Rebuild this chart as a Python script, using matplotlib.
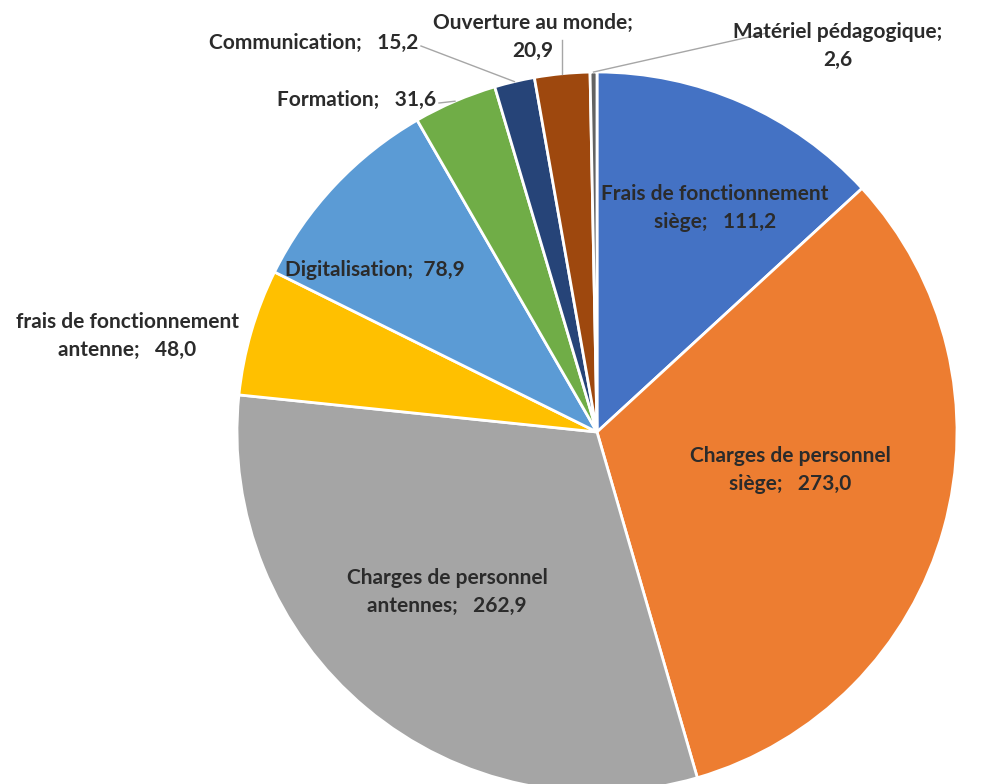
import numpy as np
import matplotlib.pyplot as plt

# Budget split (values in k€)
labels = [
    "Frais de fonctionnement siège",
    "Charges de personnel siège",
    "Charges de personnel antennes",
    "frais de fonctionnement antenne",
    "Digitalisation",
    "Formation",
    "Communication",
    "Ouverture au monde",
    "Matériel pédagogique",
]
values = [111.2, 273.0, 262.9, 48.0, 78.9, 31.6, 15.2, 20.9, 2.6]
colors = ["#4472C4", "#ED7D31", "#A5A5A5", "#FFC000", "#5B9BD5",
          "#70AD47", "#264478", "#9E480E", "#636363"]

plt.rcParams["font.family"] = ["Lato", "DejaVu Sans"]

W, H = 992, 784
fig = plt.figure(figsize=(W / 100, H / 100), dpi=100)
ax = fig.add_axes([0, 0, 1, 1])

cx, cy, R = 597, H - 432, 360
wedges, _ = ax.pie(values, colors=colors, startangle=90, counterclock=False,
                   center=(cx, cy), radius=R, frame=True,
                   wedgeprops=dict(edgecolor="white", linewidth=2))
ax.set_xlim(0, W)
ax.set_ylim(0, H)
ax.set_aspect("equal")
ax.axis("off")


def fmt(v):
    return f"{v:.1f}".replace(".", ",")


txt = dict(fontsize=15, fontweight="bold", color="#2b2b2b", ha="center",
           va="center", linespacing=1.45)

# labels inside the big wedges (x, y in pixels from top-left)
inside = {
    0: ("Frais de fonctionnement\nsiège;   {}", 715, 208),
    1: ("Charges de personnel\nsiège;   {}", 790, 470),
    2: ("Charges de personnel\nantennes;   {}", 447, 592),
    4: ("Digitalisation;  {}", 375, 270),
}
for i, (t, x, y) in inside.items():
    ax.text(x, H - y, t.format(fmt(values[i])), **txt)

ax.text(127, H - 336, "frais de fonctionnement\nantenne;   " + fmt(values[3]), **txt)


def edge(i):
    w = wedges[i]
    a = np.deg2rad((w.theta1 + w.theta2) / 2)
    return cx + R * np.cos(a), cy + R * np.sin(a)


line = dict(color="#A6A6A6", lw=1)

# small wedges with leader lines
ex, ey = edge(5)
ax.text(436, H - 100, "Formation;   " + fmt(values[5]), **dict(txt, ha="right"))
ax.plot([439, ex], [H - 103, ey], **line)

ex, ey = edge(6)
ax.text(418, H - 43, "Communication;   " + fmt(values[6]), **dict(txt, ha="right"))
ax.plot([421, ex], [H - 46, ey], **line)

ex, ey = edge(7)
ax.text(533, H - 37, "Ouverture au monde;\n" + fmt(values[7]), **txt)
ax.plot([ex, ex], [H - 40, ey], **line)

ex, ey = edge(8)
ax.text(838, H - 46, "Matériel pédagogique;\n" + fmt(values[8]), **txt)
ax.plot([767, ex], [H - 33, ey], **line)

fig.savefig("out.png", dpi=100)
